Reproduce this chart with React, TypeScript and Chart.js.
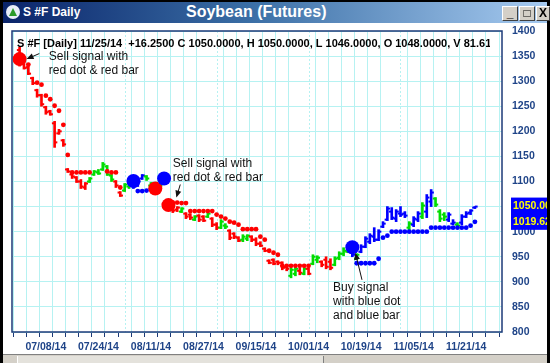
import React, { useEffect, useRef } from 'react';
import { Chart, registerables } from 'chart.js';
Chart.register(...registerables);

// ---------------- data ----------------
const opens = [
  1362, 1340, 1328, 1306, 1282, 1272, 1248, 1240, 1216, 1196, 1182,
  1124, 1114, 1108, 1100, 1088, 1100, 1114, 1118, 1124, 1130,
  1112, 1100, 1078, 1082, 1090, 1092, 1094, 1106, 1110, 1092,
  1090, 1088, 1098, 1060, 1046, 1044, 1040, 1036, 1034, 1024,
  1032, 1030, 1030, 1026, 1014, 1008, 1012, 1002, 996, 988,
  984, 986, 990, 984, 976, 966, 942, 944, 940, 938,
  930, 912, 916, 922, 916, 926, 936, 944, 940, 944,
  940, 934, 948, 956, 960, 958, 946, 960, 970, 980,
  990, 984, 1010, 1024, 1040, 1026, 1036, 1036, 1008, 1014,
  1024, 1030, 1040, 1060, 1066, 1040, 1034, 1024, 1016, 1014,
  1018, 1030, 1038, 1048,
];
const highs = [
  1368, 1342, 1330, 1308, 1284, 1274, 1250, 1242, 1220, 1204, 1184,
  1126, 1116, 1110, 1104, 1098, 1108, 1122, 1124, 1138, 1132,
  1114, 1102, 1080, 1096, 1098, 1096, 1102, 1114, 1112, 1098,
  1092, 1096, 1106, 1062, 1050, 1050, 1048, 1038, 1036, 1032,
  1034, 1032, 1038, 1028, 1018, 1024, 1016, 1004, 998, 990,
  994, 994, 992, 988, 980, 968, 944, 946, 942, 940,
  932, 928, 930, 928, 928, 928, 954, 952, 942, 950,
  946, 950, 960, 968, 972, 962, 956, 974, 990, 996,
  1008, 1004, 1020, 1050, 1048, 1044, 1050, 1040, 1020, 1030,
  1040, 1058, 1074, 1084, 1068, 1044, 1038, 1038, 1024, 1018,
  1034, 1040, 1044, 1050,
];
const lows = [
  1330, 1324, 1313, 1293, 1268, 1250, 1234, 1232, 1168, 1194, 1170,
  1118, 1106, 1098, 1086, 1084, 1098, 1112, 1114, 1122, 1112,
  1100, 1088, 1070, 1080, 1086, 1086, 1090, 1104, 1102, 1090,
  1082, 1086, 1096, 1046, 1038, 1040, 1038, 1026, 1024, 1022,
  1020, 1020, 1028, 1010, 1004, 1006, 1006, 984, 986, 980,
  980, 982, 980, 972, 970, 960, 936, 934, 934, 924,
  922, 908, 912, 914, 914, 914, 934, 938, 930, 926,
  924, 932, 944, 952, 958, 950, 944, 958, 968, 976,
  980, 982, 1008, 1022, 1024, 1020, 1030, 1028, 1002, 1010,
  1020, 1026, 1028, 1050, 1050, 1020, 1022, 1020, 1014, 1008,
  1014, 1028, 1034, 1046,
];
const closes = [
  1336, 1326, 1315, 1296, 1272, 1254, 1238, 1234, 1178, 1200, 1174,
  1120, 1110, 1100, 1090, 1096, 1106, 1120, 1116, 1134, 1114,
  1104, 1092, 1072, 1094, 1094, 1090, 1100, 1112, 1106, 1096,
  1086, 1092, 1104, 1050, 1042, 1048, 1046, 1030, 1028, 1030,
  1024, 1022, 1036, 1014, 1008, 1020, 1010, 988, 990, 982,
  990, 992, 984, 976, 972, 962, 938, 936, 938, 928,
  926, 924, 926, 918, 926, 916, 950, 948, 934, 930,
  928, 946, 956, 962, 968, 954, 954, 970, 986, 992,
  984, 1000, 1016, 1046, 1028, 1040, 1034, 1032, 1016, 1026,
  1036, 1052, 1068, 1078, 1054, 1026, 1030, 1034, 1018, 1012,
  1030, 1036, 1042, 1050,
];
// r = sell (red), g = neutral (green), b = buy (blue)
const barColorCodes =
  'rrrrrrrrrrrrrrrr' + 'gggggg' + 'rr' + 'gg' + 'bbb' + 'ggrgbrrr' +
  'g' + 'rr' + 'g' + 'rr' + 'g' + 'rr' + 'gg' + 'rrr' + 'gg' + 'rrrrrrrrr' +
  'gg' + 'r' + 'g' + 'r' + 'gg' + 'rrr' + 'gggg' + 'b' + 'g' + 'bbbbbbbbbbb' +
  'g' + 'bb' + 'g' + 'bb' + 'ggg' + 'bb' + 'g' + 'bbbb';
const stops = [
  null, null, 1333, null, 1297, 1293, 1271, 1264, 1251, 1241, 1213,
  1153, 1118, 1118, 1118, 1118, 1118, null, null, null, 1120,
  1118, 1118, 1088, null, null, null, 1081, 1081, 1082, 1086,
  null, null, null, null, 1058, 1058, 1057, 1057, 1041, 1041,
  1041, 1041, 1041, 1041, 1034, 1030, 1026, 1020, 1018, 1014,
  1005, 1005, 1005, 1005, 990, 984, 962, 958, 954, 932,
  932, 932, 932, 932, 932, 932, null, null, null, null,
  null, null, null, null, null, null, 937, 937, 937, 937,
  937, 946, 988, 992, 1000, 1000, 1000, 1000, 1000, 1000,
  1000, 1000, 1000, 1008, 1008, 1008, 1008, 1008, 1008, 1008,
  1008, 1008, 1012, 1019.62,
];
const stopColorCodes =
  'rrrrrrrrrrrrrrrrrrrrrrrrrrr' + 'bbbb' + 'rrrrrrrrrrrrrrrrrrrrrrrrrrrrrrrrrrrrrrrrrrrrr' +
  'bbbbbbbbbbbbbbbbbbbbbbbbbbbbb';
const signalIndex = [0, 26, 31, 33, 34, 76];
const signalValue = [1344, 1101, 1086, 1106, 1053, 969];
const signalColorCodes = 'rbrbrb';

const dateLabelIndex = [6, 18, 30, 42, 54, 66, 78, 90, 102];
const dateLabels = ['07/08/14', '07/24/14', '08/11/14', '08/27/14', '09/15/14', '10/01/14', '10/19/14', '11/05/14', '11/21/14'];
const monthStartIndex = [24, 45, 66, 87];
const tickIndex = [0, 3, 6, 9, 12, 15, 18, 21, 24, 27, 30, 33, 36, 39, 42, 45, 48, 51, 54, 57, 60, 63, 66, 69, 72, 75, 78, 81, 84, 87, 90, 93, 96, 99, 102, 105, 108];
const xMin = -0.22;
const xMax = 108.67;
const yMin = 800;
const yMax = 1400;
const yStep = 50;
const lastClose = 1050.0;
const lastStop = 1019.62;
const headerText = 'S #F [Daily] 11/25/14  +16.2500 C 1050.0000, H 1050.0000, L 1046.0000, O 1048.0000, V 81.6140';

const notes = [
  { lines: ['Sell signal with', 'red dot & red bar'], at: [6.67, 1349], from: [4.5, 1355], to: [1.6, 1344] },
  { lines: ['Sell signal with', 'red dot & red bar'], at: [35.0, 1136], from: [36.7, 1094], to: [35.8, 1068] },
  { lines: ['Buy signal', 'with blue dot', 'and blue bar'], at: [71.6, 888], from: [78.2, 904], to: [76.7, 958] },
];

// ---------------- styles ----------------
const FONT = 'Arial, "Liberation Sans", sans-serif';
const COLORS: Record<string, string> = { r: '#ff0000', g: '#00dd00', b: '#0000ff' };
const GRID = '#b6f2f2';
const NAVY = '#1c3a78';
const LABEL = '#1f4488';

const chromePlugin = {
  id: 'chromePlugin',
  beforeDatasetsDraw(chart: any) {
    const { ctx, chartArea, scales } = chart;
    ctx.save();
    ctx.strokeStyle = GRID;
    ctx.lineWidth = 1;
    ctx.setLineDash([2, 2]);
    monthStartIndex.forEach((i) => {
      const x = Math.round(scales.x.getPixelForValue(i)) + 0.5;
      ctx.beginPath();
      ctx.moveTo(x, chartArea.top);
      ctx.lineTo(x, chartArea.bottom);
      ctx.stroke();
    });
    ctx.restore();
  },
  afterDatasetsDraw(chart: any) {
    const { ctx, chartArea, scales } = chart;
    const xs = scales.x;
    const ys = scales.y;
    ctx.save();
    // header
    ctx.save();
    ctx.beginPath();
    ctx.rect(chartArea.left, chartArea.top, chartArea.right - chartArea.left - 12, 30);
    ctx.clip();
    ctx.font = 'bold 11px ' + FONT;
    ctx.fillStyle = '#000';
    ctx.textBaseline = 'middle';
    ctx.fillText(headerText, chartArea.left + 5, chartArea.top + 13);
    ctx.restore();
    // notes
    ctx.font = '12px ' + FONT;
    ctx.fillStyle = '#111';
    ctx.textBaseline = 'middle';
    notes.forEach((n) => {
      const tx = xs.getPixelForValue(n.at[0]);
      const ty = ys.getPixelForValue(n.at[1]);
      n.lines.forEach((l, k) => ctx.fillText(l, tx, ty + k * 14));
      const x1 = xs.getPixelForValue(n.from[0]);
      const y1 = ys.getPixelForValue(n.from[1]);
      const x2 = xs.getPixelForValue(n.to[0]);
      const y2 = ys.getPixelForValue(n.to[1]);
      const a = Math.atan2(y2 - y1, x2 - x1);
      ctx.strokeStyle = '#111';
      ctx.lineWidth = 1;
      ctx.beginPath();
      ctx.moveTo(x1, y1);
      ctx.lineTo(x2 - 5 * Math.cos(a), y2 - 5 * Math.sin(a));
      ctx.stroke();
      ctx.beginPath();
      ctx.moveTo(x2, y2);
      ctx.lineTo(x2 - 7 * Math.cos(a) + 3 * Math.sin(a), y2 - 7 * Math.sin(a) - 3 * Math.cos(a));
      ctx.lineTo(x2 - 7 * Math.cos(a) - 3 * Math.sin(a), y2 - 7 * Math.sin(a) + 3 * Math.cos(a));
      ctx.closePath();
      ctx.fill();
    });
    ctx.restore();
  },
  afterDraw(chart: any) {
    const { ctx, chartArea, scales } = chart;
    const ys = scales.y;
    ctx.save();
    ctx.strokeStyle = NAVY;
    ctx.lineWidth = 1.5;
    ctx.strokeRect(chartArea.left, chartArea.top, chartArea.right - chartArea.left, chartArea.bottom - chartArea.top);
    // last value boxes
    const y1 = ys.getPixelForValue(lastClose);
    const y2 = ys.getPixelForValue(lastStop);
    ctx.fillStyle = '#0000ff';
    ctx.fillRect(chartArea.right + 9, y1 - 9, chart.width - chartArea.right - 9, y2 - y1 + 17);
    ctx.fillStyle = '#ffff00';
    ctx.font = 'bold 10.5px ' + FONT;
    ctx.textBaseline = 'middle';
    ctx.fillText(lastClose.toFixed(2), chartArea.right + 11, y1);
    ctx.fillText(lastStop.toFixed(2), chartArea.right + 11, y2);
    ctx.restore();
  },
};

export default function App() {
  const ref = useRef<HTMLCanvasElement | null>(null);
  useEffect(() => {
    if (!ref.current) return;
    const idx = opens.map((_, i) => i);
    const barCols = idx.map((i) => COLORS[barColorCodes[i]]);
    const chart = new Chart(ref.current, {
      type: 'bar',
      data: {
        datasets: [
          {
            type: 'scatter',
            order: 0,
            clip: false as any,
            data: signalIndex.map((x, k) => ({ x, y: signalValue[k] })),
            pointRadius: 7,
            pointBorderWidth: 0,
            pointBackgroundColor: signalIndex.map((_, k) => COLORS[signalColorCodes[k]]),
          } as any,
          {
            type: 'scatter',
            order: 1,
            data: idx.filter((i) => stops[i] !== null).map((i) => ({ x: i, y: stops[i] })),
            pointRadius: 2.4,
            pointBorderWidth: 0,
            pointBackgroundColor: idx.filter((i) => stops[i] !== null).map((i) => COLORS[stopColorCodes[i]]),
          } as any,
          {
            type: 'scatter',
            order: 2,
            data: idx.map((i) => ({ x: i - 0.3, y: opens[i] })),
            pointStyle: 'line',
            pointRadius: 1.4,
            pointBorderWidth: 2,
            pointBorderColor: barCols,
          } as any,
          {
            type: 'scatter',
            order: 2,
            data: idx.map((i) => ({ x: i + 0.3, y: closes[i] })),
            pointStyle: 'line',
            pointRadius: 1.4,
            pointBorderWidth: 2,
            pointBorderColor: barCols,
          } as any,
          {
            type: 'bar',
            order: 3,
            data: idx.map((i) => ({ x: i, y: [lows[i], highs[i]] })),
            backgroundColor: barCols,
            barThickness: 2,
            grouped: false,
          } as any,
        ],
      },
      options: {
        animation: false,
        responsive: false,
        events: [],
        layout: { padding: { left: 12, top: 31, right: 0, bottom: 11 } },
        plugins: { legend: { display: false }, tooltip: { enabled: false } },
        scales: {
          x: {
            type: 'linear',
            min: xMin,
            max: xMax,
            afterBuildTicks: (s: any) => {
              s.ticks = tickIndex.map((v) => ({ value: v }));
            },
            afterFit: (s: any) => {
              s.height = 20;
            },
            ticks: {
              autoSkip: false,
              maxRotation: 0,
              padding: 4,
              color: LABEL,
              font: { family: FONT, size: 10.5, weight: 'bold' },
              callback: (v: any) => {
                const k = dateLabelIndex.indexOf(Number(v));
                return k >= 0 ? dateLabels[k] : '';
              },
            },
            grid: {
              color: (c: any) => (c.tick && monthStartIndex.includes(c.tick.value) ? 'rgba(0,0,0,0)' : GRID),
              tickColor: NAVY,
              tickLength: 5,
              lineWidth: 1,
            },
            border: { display: false },
          },
          y: {
            position: 'right',
            min: yMin,
            max: yMax,
            afterFit: (s: any) => {
              s.width = 48;
            },
            ticks: {
              stepSize: yStep,
              padding: 10,
              color: LABEL,
              font: { family: FONT, size: 10.5, weight: 'bold' },
              callback: (v: any) => String(v),
            },
            grid: { color: GRID, drawTicks: false },
            border: { display: false },
          },
        },
      } as any,
      plugins: [chromePlugin],
    });
    return () => chart.destroy();
  }, []);

  const btn = (left: number, w: number, glyph: React.ReactNode) => (
    <div
      style={{
        position: 'absolute', left, top: 4, width: w, height: 15, background: '#d4d0c8',
        borderTop: '1px solid #fff', borderLeft: '1px solid #fff', borderRight: '1px solid #404040',
        borderBottom: '1px solid #404040', boxSizing: 'border-box', font: 'bold 12px ' + FONT,
        color: '#000', textAlign: 'center', lineHeight: '13px', overflow: 'hidden',
      }}
    >
      {glyph}
    </div>
  );

  return (
    <div style={{ position: 'fixed', left: 0, top: 0, width: 550, height: 363, background: '#fff', overflow: 'hidden' }}>
      <canvas ref={ref} width={550} height={363} style={{ position: 'absolute', left: 0, top: 0, width: 550, height: 363 }} />
      <div style={{ position: 'absolute', left: 0, top: 0, width: 550, height: 2, background: '#000' }} />
      <div style={{ position: 'absolute', left: 0, top: 0, width: 3, height: 363, background: '#000' }} />
      <div style={{ position: 'absolute', left: 547, top: 0, width: 3, height: 363, background: '#000' }} />
      <div
        style={{
          position: 'absolute', left: 3, top: 2, width: 544, height: 21,
          background: 'linear-gradient(to right, #0a246a 0%, #3a6ea5 45%, #a6caf0 100%)',
        }}
      >
        <div style={{ position: 'absolute', left: 3, top: 3, width: 14, height: 14, borderRadius: 7, background: '#e8eef8' }}>
          <div style={{ position: 'absolute', left: 3, top: 3, width: 0, height: 0, borderLeft: '4px solid transparent', borderRight: '4px solid transparent', borderBottom: '8px solid #2a9a2a' }} />
        </div>
        <div style={{ position: 'absolute', left: 20, top: 3, color: '#fff', font: 'bold 12px ' + FONT, whiteSpace: 'nowrap' }}>S #F Daily</div>
        <div style={{ position: 'absolute', left: 183, top: 1, color: '#fff', font: 'bold 16px ' + FONT, whiteSpace: 'nowrap' }}>Soybean (Futures)</div>
        {btn(499, 16, '_')}
        {btn(516, 16, '□')}
        {btn(533, 14, 'X')}
      </div>
      <div style={{ position: 'absolute', left: 3, top: 354, width: 544, height: 9, background: '#d4d0c8', borderTop: '1px solid #808080', boxSizing: 'border-box' }}>
        <div style={{ position: 'absolute', left: 14, top: 1, width: 305, height: 7, background: '#e4e2dc', borderLeft: '1px solid #fff', borderRight: '1px solid #808080' }} />
      </div>
    </div>
  );
}
